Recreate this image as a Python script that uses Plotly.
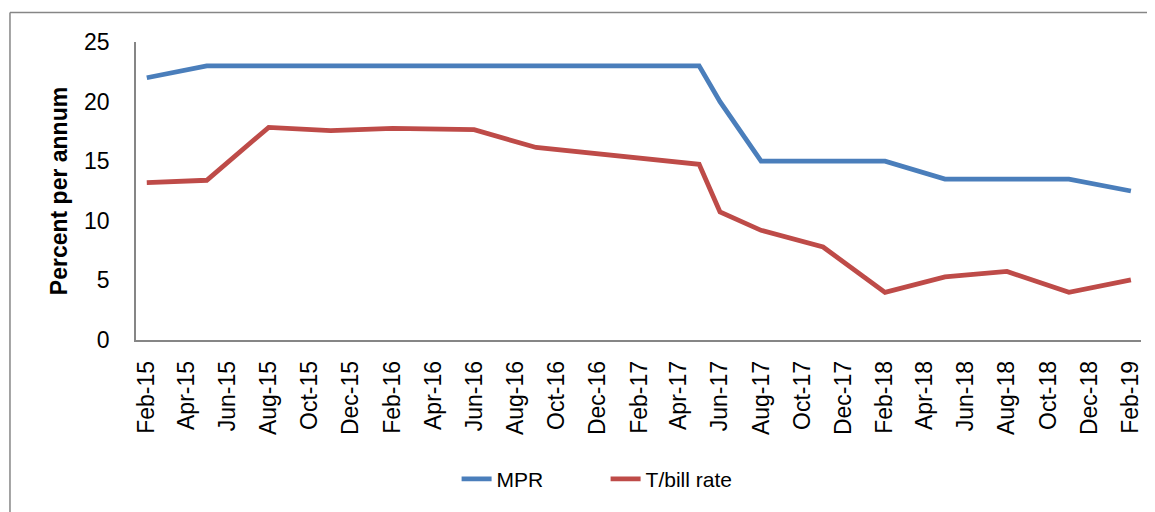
import plotly.graph_objects as go

dates = ["2015-02-01", "2015-05-01", "2015-08-01", "2015-11-01", "2016-02-01",
         "2016-06-01", "2016-09-01", "2017-05-01", "2017-06-01", "2017-08-01",
         "2017-11-01", "2018-02-01", "2018-05-01", "2018-08-01", "2018-11-01",
         "2019-02-01"]
mpr = [22, 23, 23, 23, 23, 23, 23, 23, 20, 15, 15, 15, 13.5, 13.5, 13.5, 12.5]
tbill = [13.2, 13.4, 17.84, 17.56, 17.76, 17.65, 16.15, 14.74, 10.75, 9.2,
         7.8, 4.0, 5.3, 5.75, 4.0, 5.05]
y_title = "Percent per annum"

fig = go.Figure()
fig.add_trace(go.Scatter(x=dates, y=mpr, mode="lines", name="MPR",
                         line=dict(color="#4A7EBB", width=4.8)))
fig.add_trace(go.Scatter(x=dates, y=tbill, mode="lines", name="T/bill rate",
                         line=dict(color="#BE4B48", width=4.8)))

axis_col = "#868686"
fig.update_layout(
    width=1147, height=504,
    margin=dict(l=128, r=14, t=34, b=168),
    paper_bgcolor="white", plot_bgcolor="white",
    font=dict(family="Liberation Sans", color="black"),
    xaxis=dict(type="date", range=["2015-01-16", "2019-02-16"],
               tick0="2015-02-01", dtick="M2", tickformat="%b-%y",
               tickangle=-90, ticks="", showgrid=False, zeroline=False,
               showline=True, linecolor=axis_col, linewidth=1.5,
               tickfont=dict(size=23, family="Liberation Sans"),
               ticklabelstandoff=10),
    yaxis=dict(range=[0, 25], dtick=5, ticks="", showgrid=False, zeroline=False,
               showline=True, linecolor=axis_col, linewidth=1.5,
               tickfont=dict(size=23, family="Liberation Sans"),
               ticklabelstandoff=20,
               title=dict(text="<b>" + y_title + "</b>", standoff=10,
                          font=dict(size=23, family="Liberation Sans"))),
    showlegend=True,
    legend=dict(orientation="h", x=0.319, xanchor="left", y=-0.467,
                yanchor="middle", font=dict(size=21, family="Liberation Sans"),
                entrywidth=104, bgcolor="rgba(0,0,0,0)"),
    shapes=[
        dict(type="line", xref="paper", yref="paper",
             x0=-0.1254, x1=1.0139, y0=1.0993, y1=1.0993,
             line=dict(color=axis_col, width=1.5), layer="below"),
        dict(type="line", xref="paper", yref="paper",
             x0=-0.1254, x1=-0.1254, y0=-0.6, y1=1.0993,
             line=dict(color=axis_col, width=1.5), layer="below"),
    ],
)

fig.write_html("out.html")
